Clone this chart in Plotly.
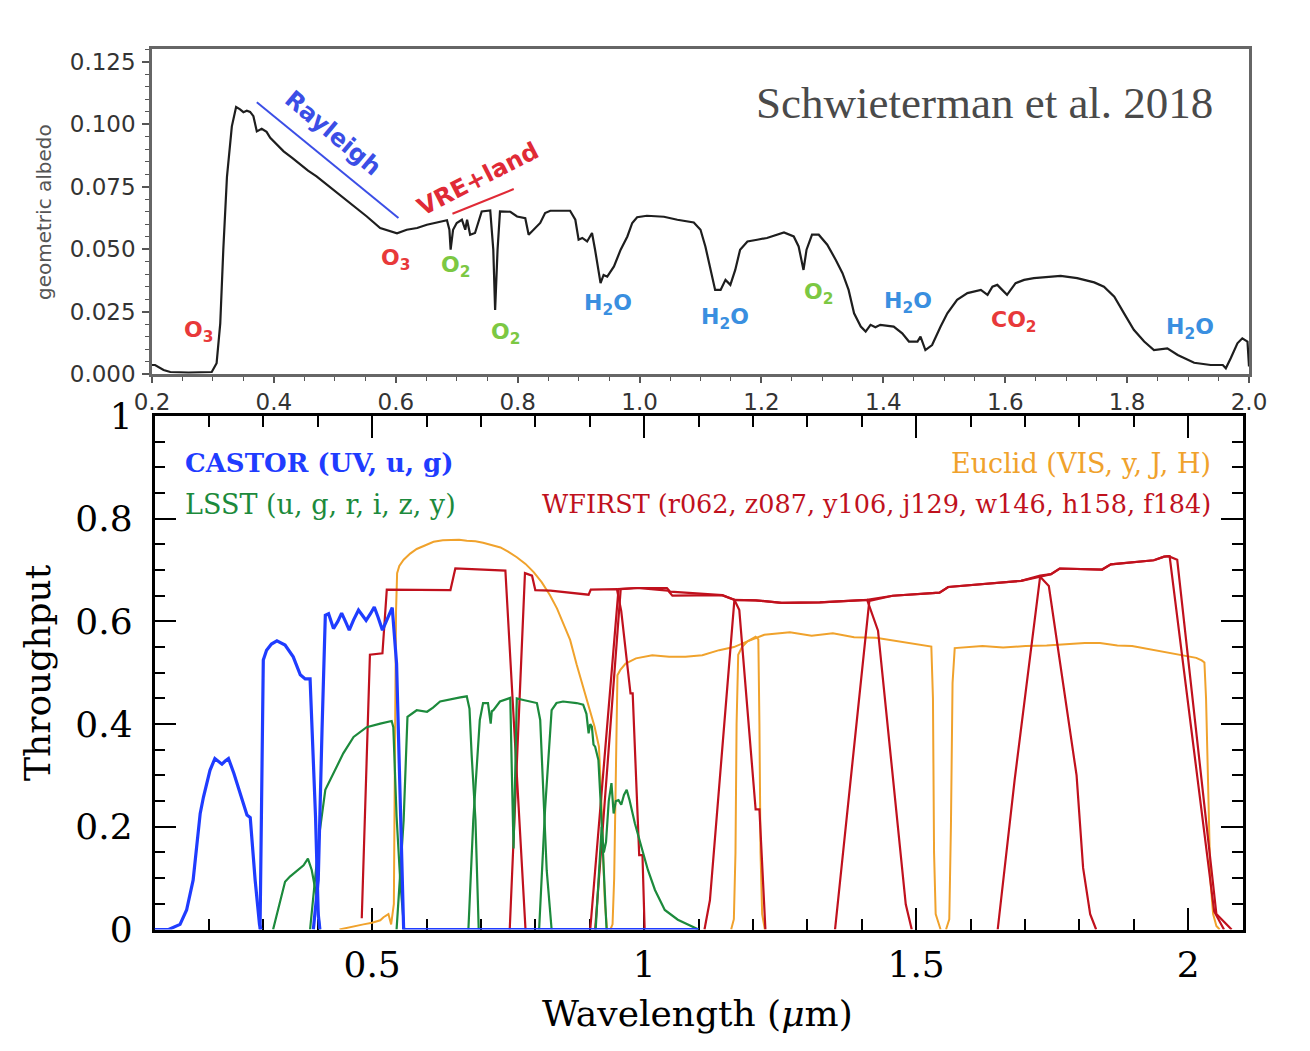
import plotly.graph_objects as go

W, H = 1310, 1051

# ---------------- top panel: Earth geometric albedo (Schwieterman et al. 2018) ----------------
albedo_wl = [0.200, 0.205, 0.219, 0.230, 0.260, 0.298, 0.306, 0.312, 0.317, 0.323,
             0.331, 0.338, 0.3445, 0.350, 0.3555, 0.361, 0.3664, 0.372, 0.380, 0.388,
             0.394, 0.405, 0.416, 0.430, 0.443, 0.456, 0.470, 0.484, 0.498, 0.511,
             0.525, 0.539, 0.5525, 0.5744, 0.591, 0.602, 0.618, 0.635, 0.651, 0.673,
             0.684, 0.688, 0.690, 0.694, 0.700, 0.7085, 0.714, 0.717, 0.722, 0.730,
             0.736, 0.741, 0.755, 0.760, 0.763, 0.767, 0.771, 0.788, 0.799, 0.8125,
             0.818, 0.826, 0.837, 0.845, 0.8535, 0.886, 0.8946, 0.900, 0.906, 0.914,
             0.922, 0.927, 0.933, 0.936, 0.941, 0.947, 0.958, 0.969, 0.980, 0.988,
             0.996, 1.012, 1.040, 1.062, 1.089, 1.100, 1.108, 1.116, 1.124, 1.133,
             1.141, 1.149, 1.157, 1.165, 1.177, 1.193, 1.209, 1.237, 1.253, 1.261,
             1.269, 1.274, 1.283, 1.294, 1.308, 1.322, 1.333, 1.343, 1.352, 1.363,
             1.371, 1.379, 1.387, 1.395, 1.417, 1.431, 1.442, 1.456, 1.461, 1.469,
             1.480, 1.494, 1.505, 1.521, 1.538, 1.560, 1.571, 1.579, 1.587, 1.595,
             1.603, 1.617, 1.631, 1.647, 1.664, 1.691, 1.718, 1.746, 1.762, 1.779,
             1.795, 1.811, 1.828, 1.844, 1.866, 1.883, 1.910, 1.937, 1.957, 1.962,
             1.970, 1.981, 1.989, 1.9975, 2.000]
albedo = [0.0036, 0.0036, 0.0016, 0.0008, 0.0006, 0.0008, 0.0043, 0.0203, 0.0498, 0.0790,
          0.0992, 0.1070, 0.1060, 0.1049, 0.1055, 0.1050, 0.1033, 0.0972, 0.0982, 0.0970,
          0.0946, 0.0919, 0.0892, 0.0866, 0.0839, 0.0815, 0.0792, 0.0765, 0.0738, 0.0712,
          0.0685, 0.0658, 0.0631, 0.0585, 0.0571, 0.0564, 0.0578, 0.0585, 0.0598, 0.0611,
          0.0616, 0.0578, 0.0498, 0.0578, 0.0605, 0.0618, 0.0578, 0.0618, 0.0558, 0.0565,
          0.0611, 0.0651, 0.0655, 0.0498, 0.0257, 0.0498, 0.0651, 0.0650, 0.0631, 0.0624,
          0.0558, 0.0578, 0.0605, 0.0645, 0.0654, 0.0654, 0.0618, 0.0538, 0.0545, 0.0531,
          0.0565, 0.0498, 0.0404, 0.0364, 0.0397, 0.0390, 0.0431, 0.0498, 0.0551, 0.0605,
          0.0628, 0.0634, 0.0630, 0.0618, 0.0607, 0.0578, 0.0511, 0.0417, 0.0337, 0.0337,
          0.0377, 0.0357, 0.0417, 0.0498, 0.0531, 0.0538, 0.0545, 0.0567, 0.0551, 0.0511,
          0.0417, 0.0498, 0.0558, 0.0558, 0.0518, 0.0457, 0.0404, 0.0337, 0.0243, 0.0190,
          0.0170, 0.0197, 0.0187, 0.0197, 0.0190, 0.0163, 0.0130, 0.0130, 0.0150, 0.0096,
          0.0116, 0.0190, 0.0243, 0.0297, 0.0324, 0.0337, 0.0317, 0.0350, 0.0357, 0.0337,
          0.0317, 0.0364, 0.0377, 0.0384, 0.0388, 0.0393, 0.0384, 0.0367, 0.0350, 0.0310,
          0.0243, 0.0177, 0.0130, 0.0096, 0.0103, 0.0076, 0.0045, 0.0036, 0.0036, 0.0023,
          0.0063, 0.0123, 0.0143, 0.0130, 0.0030]

# feature labels (wavelength, albedo positions)
mol_labels = ["O<sub>3</sub>", "O<sub>3</sub>", "O<sub>2</sub>", "O<sub>2</sub>", "H<sub>2</sub>O",
              "H<sub>2</sub>O", "O<sub>2</sub>", "H<sub>2</sub>O", "CO<sub>2</sub>", "H<sub>2</sub>O"]
mol_wl = [0.277, 0.599, 0.6975, 0.780, 0.949, 1.141, 1.294, 1.440, 1.614, 1.904]
mol_alb = [0.0170, 0.0458, 0.0430, 0.0162, 0.0278, 0.0222, 0.0322, 0.0286, 0.0210, 0.0182]
mol_colors = ["#e8393a", "#e8393a", "#7cc843", "#7cc843", "#3a8fe0",
              "#3a8fe0", "#7cc843", "#3a8fe0", "#e8393a", "#3a8fe0"]

rayleigh_line_wl = [0.372, 0.6044]
rayleigh_line_alb = [0.1089, 0.0625]
vre_line_wl = [0.693, 0.7936]
vre_line_alb = [0.0642, 0.0741]

# ---------------- bottom panel: filter throughputs ----------------
castor_uv_wl = [0.100, 0.126, 0.147, 0.159, 0.171, 0.184, 0.190, 0.202, 0.211, 0.218,
                0.224, 0.230, 0.236, 0.246, 0.261, 0.270, 0.276, 0.285, 0.293, 0.296]
castor_uv_T = [0.000, 0.000, 0.010, 0.038, 0.096, 0.226, 0.258, 0.310, 0.333, 0.328,
               0.322, 0.328, 0.333, 0.304, 0.252, 0.223, 0.218, 0.096, 0.010, 0.000]
castor_u_wl = [0.294, 0.297, 0.300, 0.306, 0.315, 0.325, 0.340, 0.355, 0.368, 0.377,
               0.386, 0.396, 0.401, 0.404]
castor_u_T = [0.000, 0.300, 0.525, 0.544, 0.556, 0.562, 0.554, 0.531, 0.496, 0.488,
              0.488, 0.220, 0.030, 0.000]
castor_g_wl = [0.392, 0.401, 0.408, 0.414, 0.420, 0.429, 0.437, 0.444, 0.451, 0.458,
               0.466, 0.475, 0.482, 0.489, 0.497, 0.504, 0.511, 0.519, 0.528, 0.537,
               0.545, 0.552, 0.558, 1.100]
castor_g_T = [0.000, 0.096, 0.390, 0.612, 0.615, 0.586, 0.600, 0.616, 0.600, 0.583,
              0.603, 0.622, 0.612, 0.602, 0.615, 0.628, 0.608, 0.583, 0.605, 0.627,
              0.518, 0.220, 0.000, 0.000]

lsst_u_wl = [0.318, 0.327, 0.340, 0.349, 0.357, 0.365, 0.374, 0.382, 0.389, 0.398, 0.404]
lsst_u_T = [0.000, 0.040, 0.093, 0.103, 0.110, 0.116, 0.125, 0.138, 0.116, 0.064, 0.000]
lsst_g_wl = [0.386, 0.395, 0.404, 0.414, 0.429, 0.447, 0.466, 0.490, 0.515, 0.536,
             0.539, 0.545, 0.552, 0.559]
lsst_g_T = [0.000, 0.096, 0.193, 0.272, 0.304, 0.343, 0.375, 0.394, 0.401, 0.406,
            0.394, 0.220, 0.090, 0.000]
lsst_r_wl = [0.545, 0.552, 0.558, 0.565, 0.582, 0.601, 0.612, 0.625, 0.638, 0.650,
             0.662, 0.674, 0.679, 0.683, 0.690, 0.696]
lsst_r_T = [0.000, 0.110, 0.213, 0.414, 0.427, 0.424, 0.432, 0.444, 0.447, 0.450,
            0.452, 0.454, 0.430, 0.340, 0.213, 0.000]
lsst_i_wl = [0.677, 0.686, 0.698, 0.704, 0.713, 0.716, 0.718, 0.720, 0.723, 0.735,
             0.754, 0.757, 0.760, 0.763, 0.766, 0.778, 0.790, 0.803, 0.809, 0.814,
             0.821, 0.830]
lsst_i_T = [0.000, 0.213, 0.408, 0.441, 0.441, 0.420, 0.401, 0.425, 0.427, 0.444,
            0.451, 0.300, 0.158, 0.300, 0.450, 0.447, 0.444, 0.441, 0.408, 0.278,
            0.115, 0.000]
lsst_z_wl = [0.807, 0.818, 0.830, 0.839, 0.851, 0.864, 0.876, 0.888, 0.894, 0.898,
             0.901, 0.904, 0.907, 0.910, 0.916, 0.920, 0.925, 0.931]
lsst_z_T = [0.000, 0.235, 0.427, 0.441, 0.444, 0.443, 0.441, 0.438, 0.420, 0.382,
            0.400, 0.395, 0.360, 0.356, 0.330, 0.250, 0.135, 0.000]
lsst_y_wl = [0.911, 0.918, 0.922, 0.926, 0.930, 0.935, 0.940, 0.944, 0.948, 0.953,
             0.958, 0.963, 0.968, 0.973, 0.983, 0.995, 1.007, 1.020, 1.038, 1.062,
             1.096, 1.100]
lsst_y_T = [0.000, 0.120, 0.200, 0.150, 0.170, 0.250, 0.285, 0.226, 0.250, 0.252,
            0.243, 0.262, 0.272, 0.253, 0.207, 0.161, 0.116, 0.077, 0.038, 0.019,
            0.003, 0.000]

euclid_vis_wl = [0.440, 0.460, 0.484, 0.500, 0.515, 0.521, 0.530, 0.535, 0.540, 0.542,
                 0.544, 0.546, 0.550, 0.558, 0.570, 0.582, 0.600, 0.613, 0.630, 0.644,
                 0.660, 0.674, 0.690, 0.704, 0.720, 0.736, 0.750, 0.766, 0.782, 0.797,
                 0.812, 0.827, 0.840, 0.852, 0.864, 0.876, 0.889, 0.901, 0.909, 0.917,
                 0.921, 0.925, 0.928, 0.932]
euclid_vis_T = [0.000, 0.005, 0.010, 0.013, 0.018, 0.024, 0.030, 0.010, 0.050, 0.350,
                0.620, 0.694, 0.708, 0.720, 0.732, 0.741, 0.750, 0.755, 0.758, 0.759,
                0.759, 0.757, 0.756, 0.753, 0.749, 0.744, 0.736, 0.725, 0.712, 0.696,
                0.676, 0.651, 0.625, 0.593, 0.564, 0.516, 0.468, 0.428, 0.395, 0.356,
                0.265, 0.135, 0.050, 0.000]
euclid_y_wl = [0.938, 0.942, 0.945, 0.948, 0.951, 0.956, 0.966, 0.985, 1.015, 1.046,
               1.076, 1.107, 1.138, 1.165, 1.190, 1.205, 1.210, 1.212, 1.214, 1.217, 1.222]
euclid_y_T = [0.000, 0.010, 0.100, 0.350, 0.495, 0.505, 0.518, 0.528, 0.534, 0.531,
              0.531, 0.534, 0.544, 0.550, 0.561, 0.570, 0.565, 0.400, 0.150, 0.030, 0.000]
euclid_j_wl = [1.160, 1.165, 1.168, 1.170, 1.173, 1.180, 1.190, 1.221, 1.268, 1.308,
               1.347, 1.386, 1.426, 1.465, 1.504, 1.528, 1.531, 1.533, 1.536, 1.545]
euclid_j_T = [0.000, 0.020, 0.150, 0.400, 0.535, 0.550, 0.561, 0.574, 0.579, 0.572,
              0.577, 0.569, 0.568, 0.562, 0.555, 0.551, 0.450, 0.150, 0.030, 0.000]
euclid_h_wl = [1.555, 1.561, 1.564, 1.567, 1.571, 1.622, 1.660, 1.701, 1.740, 1.779,
               1.810, 1.838, 1.870, 1.897, 1.935, 1.976, 2.015, 2.025, 2.030, 2.033,
               2.036, 2.041, 2.046, 2.052, 2.058]
euclid_h_T = [0.000, 0.020, 0.200, 0.480, 0.548, 0.552, 0.549, 0.552, 0.553, 0.556,
              0.558, 0.558, 0.553, 0.552, 0.545, 0.537, 0.529, 0.524, 0.520, 0.450,
              0.293, 0.095, 0.030, 0.007, 0.000]

wfirst_r062_wl = [0.481, 0.496, 0.519, 0.527, 0.644, 0.653, 0.745, 0.782]
wfirst_r062_T = [0.022, 0.535, 0.538, 0.662, 0.661, 0.703, 0.699, 0.000]
wfirst_z087_wl = [0.753, 0.781, 0.794, 0.800, 0.828, 0.898, 0.902, 0.950, 0.958, 0.975,
                  0.979, 0.991, 0.997, 1.001]
wfirst_z087_T = [0.000, 0.694, 0.689, 0.661, 0.660, 0.652, 0.662, 0.663, 0.620, 0.460,
                 0.460, 0.145, 0.145, 0.000]
wfirst_y106_wl = [0.901, 0.953, 0.987, 1.042, 1.048, 1.144, 1.166, 1.175, 1.205, 1.212, 1.223]
wfirst_y106_T = [0.000, 0.663, 0.665, 0.665, 0.658, 0.651, 0.642, 0.622, 0.234, 0.234, 0.000]
wfirst_j129_wl = [1.111, 1.121, 1.166, 1.205, 1.253, 1.323, 1.410, 1.430, 1.481, 1.492]
wfirst_j129_T = [0.000, 0.057, 0.642, 0.641, 0.636, 0.637, 0.642, 0.582, 0.049, 0.000]
wfirst_w146_wl = [0.910, 0.957, 0.987, 1.044, 1.052, 1.143, 1.166, 1.205, 1.253, 1.323,
                  1.410, 1.457, 1.543, 1.559, 1.693, 1.728, 1.748, 1.764, 1.842, 1.858,
                  1.937, 1.956, 1.966, 2.048, 2.066]
wfirst_w146_T = [0.000, 0.663, 0.665, 0.660, 0.650, 0.651, 0.642, 0.641, 0.636, 0.637,
                 0.642, 0.650, 0.656, 0.667, 0.679, 0.689, 0.692, 0.703, 0.701, 0.711,
                 0.719, 0.726, 0.727, 0.035, 0.000]
wfirst_h158_wl = [1.351, 1.414, 1.457, 1.543, 1.559, 1.693, 1.728, 1.744, 1.795, 1.807, 1.820, 1.831]
wfirst_h158_T = [0.000, 0.640, 0.650, 0.656, 0.667, 0.679, 0.687, 0.669, 0.300, 0.120, 0.030, 0.000]
wfirst_f184_wl = [1.650, 1.663, 1.681, 1.728, 1.748, 1.764, 1.842, 1.858, 1.937, 1.956,
                  1.964, 1.980, 2.052, 2.080]
wfirst_f184_T = [0.000, 0.122, 0.290, 0.687, 0.692, 0.703, 0.701, 0.711, 0.719, 0.726,
                 0.727, 0.720, 0.030, 0.000]

# tick values
top_x_ticks = [0.2, 0.4, 0.6, 0.8, 1.0, 1.2, 1.4, 1.6, 1.8, 2.0]
top_y_ticks = [0.000, 0.025, 0.050, 0.075, 0.100, 0.125]
bot_x_ticks = [0.5, 1, 1.5, 2]
bot_y_ticks = [0, 0.2, 0.4, 0.6, 0.8, 1]

CASTOR_C = "#1f3cff"
LSST_C = "#1c8a3c"
EUCLID_C = "#f0a22c"
WFIRST_C = "#c0111d"

fig = go.Figure()

fig.add_trace(go.Scatter(x=albedo_wl, y=albedo, mode="lines",
                         line=dict(color="#1e1e1e", width=2.2),
                         xaxis="x", yaxis="y", hoverinfo="skip"))
fig.add_trace(go.Scatter(x=rayleigh_line_wl, y=rayleigh_line_alb, mode="lines",
                         line=dict(color="#3b4ee6", width=2), xaxis="x", yaxis="y"))
fig.add_trace(go.Scatter(x=vre_line_wl, y=vre_line_alb, mode="lines",
                         line=dict(color="#e02a36", width=2), xaxis="x", yaxis="y"))

bands = [
    (euclid_vis_wl, euclid_vis_T, EUCLID_C, 2.0),
    (euclid_y_wl, euclid_y_T, EUCLID_C, 2.0),
    (euclid_j_wl, euclid_j_T, EUCLID_C, 2.0),
    (euclid_h_wl, euclid_h_T, EUCLID_C, 2.0),
    (wfirst_r062_wl, wfirst_r062_T, WFIRST_C, 2.2),
    (wfirst_z087_wl, wfirst_z087_T, WFIRST_C, 2.2),
    (wfirst_y106_wl, wfirst_y106_T, WFIRST_C, 2.2),
    (wfirst_j129_wl, wfirst_j129_T, WFIRST_C, 2.2),
    (wfirst_w146_wl, wfirst_w146_T, WFIRST_C, 2.2),
    (wfirst_h158_wl, wfirst_h158_T, WFIRST_C, 2.2),
    (wfirst_f184_wl, wfirst_f184_T, WFIRST_C, 2.2),
    (lsst_u_wl, lsst_u_T, LSST_C, 2.2),
    (lsst_g_wl, lsst_g_T, LSST_C, 2.2),
    (lsst_r_wl, lsst_r_T, LSST_C, 2.2),
    (lsst_i_wl, lsst_i_T, LSST_C, 2.2),
    (lsst_z_wl, lsst_z_T, LSST_C, 2.2),
    (lsst_y_wl, lsst_y_T, LSST_C, 2.2),
    (castor_uv_wl, castor_uv_T, CASTOR_C, 3.2),
    (castor_u_wl, castor_u_T, CASTOR_C, 3.2),
    (castor_g_wl, castor_g_T, CASTOR_C, 3.2),
]
for wl, T, col, lw in bands:
    fig.add_trace(go.Scatter(x=wl, y=T, mode="lines", line=dict(color=col, width=lw),
                             xaxis="x2", yaxis="y2", hoverinfo="skip"))

annotations = []
for lab, xw, ya, col in zip(mol_labels, mol_wl, mol_alb, mol_colors):
    annotations.append(dict(text="<b>" + lab + "</b>", x=xw, y=ya, xref="x", yref="y",
                            showarrow=False, font=dict(family="DejaVu Sans", size=22, color=col),
                            xanchor="center", yanchor="middle"))
annotations += [
    dict(text="<b>Rayleigh</b>", x=0.497, y=0.0967, xref="x", yref="y", showarrow=False,
         textangle=40, font=dict(family="DejaVu Sans", size=24, color="#3b4ee6")),
    dict(text="<b>VRE+land</b>", x=0.735, y=0.0780, xref="x", yref="y", showarrow=False,
         textangle=-27, font=dict(family="DejaVu Sans", size=24, color="#e02a36")),
    dict(text="Schwieterman et al. 2018", x=1215 / W, y=1 - 103 / H, xref="paper", yref="paper",
         showarrow=False, xanchor="right", yanchor="middle",
         font=dict(family="Liberation Serif", size=45, color="#4a4a4a")),
    dict(text="geometric albedo", x=44 / W, y=1 - 212 / H, xref="paper", yref="paper",
         showarrow=False, textangle=-90, xanchor="center", yanchor="middle",
         font=dict(family="DejaVu Sans", size=20, color="#555555")),
    dict(text="Throughput", x=37 / W, y=1 - 673 / H, xref="paper", yref="paper",
         showarrow=False, textangle=-90, xanchor="center", yanchor="middle",
         font=dict(family="DejaVu Serif", size=36, color="black")),
    dict(text="Wavelength (<i>μ</i>m)", x=697 / W, y=1 - 1013 / H, xref="paper", yref="paper",
         showarrow=False, xanchor="center", yanchor="middle",
         font=dict(family="DejaVu Serif", size=36, color="black")),
    dict(text="<b>CASTOR (UV, u, g)</b>", x=183 / W, y=1 - 463 / H, xref="paper", yref="paper",
         showarrow=False, xanchor="left", yanchor="middle",
         font=dict(family="DejaVu Serif", size=26, color=CASTOR_C)),
    dict(text="LSST (u, g, r, i, z, y)", x=183 / W, y=1 - 504 / H, xref="paper", yref="paper",
         showarrow=False, xanchor="left", yanchor="middle",
         font=dict(family="DejaVu Serif", size=27, color=LSST_C)),
    dict(text="Euclid (VIS, y, J, H)", x=1213 / W, y=1 - 463 / H, xref="paper", yref="paper",
         showarrow=False, xanchor="right", yanchor="middle",
         font=dict(family="DejaVu Serif", size=27, color=EUCLID_C)),
    dict(text="WFIRST (r062, z087, y106, j129, w146, h158, f184)", x=1213 / W, y=1 - 504 / H,
         xref="paper", yref="paper", showarrow=False, xanchor="right", yanchor="middle",
         font=dict(family="DejaVu Serif", size=25.5, color=WFIRST_C)),
]

fig.update_layout(
    template="none",
    width=W, height=H, margin=dict(l=0, r=0, t=0, b=0, pad=0, autoexpand=False),
    paper_bgcolor="white", plot_bgcolor="rgba(0,0,0,0)", showlegend=False,
    annotations=annotations,
    xaxis=dict(domain=[152 / W, 1249 / W], range=[0.2, 2.0], anchor="y", automargin=False,
               tickmode="array", tickvals=top_x_ticks,
               ticktext=["%.1f" % v for v in top_x_ticks],
               ticks="outside", ticklen=6, tickwidth=1.5, tickcolor="#555",
               showline=True, linecolor="#666", linewidth=2.5, mirror=True,
               showgrid=False, zeroline=False, ticklabelstandoff=0,
               tickfont=dict(family="DejaVu Sans", size=23, color="#333333"),
               minor=dict(dtick=0.05, tick0=0.2, ticks="outside", ticklen=4,
                          tickwidth=1.2, tickcolor="#555", showgrid=False)),
    yaxis=dict(domain=[1 - 374 / H, 1 - 49 / H], range=[0, 0.1302], anchor="x", automargin=False,
               tickmode="array", tickvals=top_y_ticks,
               ticktext=["%.3f" % v for v in top_y_ticks],
               ticks="outside", ticklen=7, tickwidth=1.5, tickcolor="#555",
               showline=True, linecolor="#666", linewidth=2.5, mirror=True,
               showgrid=False, zeroline=False, ticklabelstandoff=2,
               tickfont=dict(family="DejaVu Sans", size=23, color="#333333"),
               minor=dict(dtick=0.005, tick0=0, ticks="outside", ticklen=4,
                          tickwidth=1.2, tickcolor="#555", showgrid=False)),
    xaxis2=dict(domain=[154.5 / W, 1242.5 / W], range=[0.1, 2.1], anchor="y2", automargin=False,
                tickmode="array", tickvals=bot_x_ticks,
                ticktext=["%g" % v for v in bot_x_ticks],
                ticks="inside", ticklen=22, tickwidth=2, tickcolor="black",
                showline=True, linecolor="black", linewidth=2.5, mirror="allticks",
                showgrid=False, zeroline=False, layer="below traces", ticklabelstandoff=2,
                tickfont=dict(family="DejaVu Serif", size=36, color="black"),
                minor=dict(dtick=0.1, tick0=0, ticks="inside", ticklen=11,
                           tickwidth=2, tickcolor="black", showgrid=False)),
    yaxis2=dict(domain=[1 - 929.5 / H, 1 - 416 / H], range=[0, 1], anchor="x2", automargin=False,
                tickmode="array", tickvals=bot_y_ticks,
                ticktext=["%g" % v for v in bot_y_ticks],
                ticks="inside", ticklen=22, tickwidth=2, tickcolor="black",
                showline=True, linecolor="black", linewidth=2.5, mirror="allticks",
                showgrid=False, zeroline=False, layer="below traces", ticklabelstandoff=12,
                tickfont=dict(family="DejaVu Serif", size=36, color="black"),
                minor=dict(dtick=0.05, tick0=0, ticks="inside", ticklen=11,
                           tickwidth=2, tickcolor="black", showgrid=False)),
)

fig.write_html("out.html")
